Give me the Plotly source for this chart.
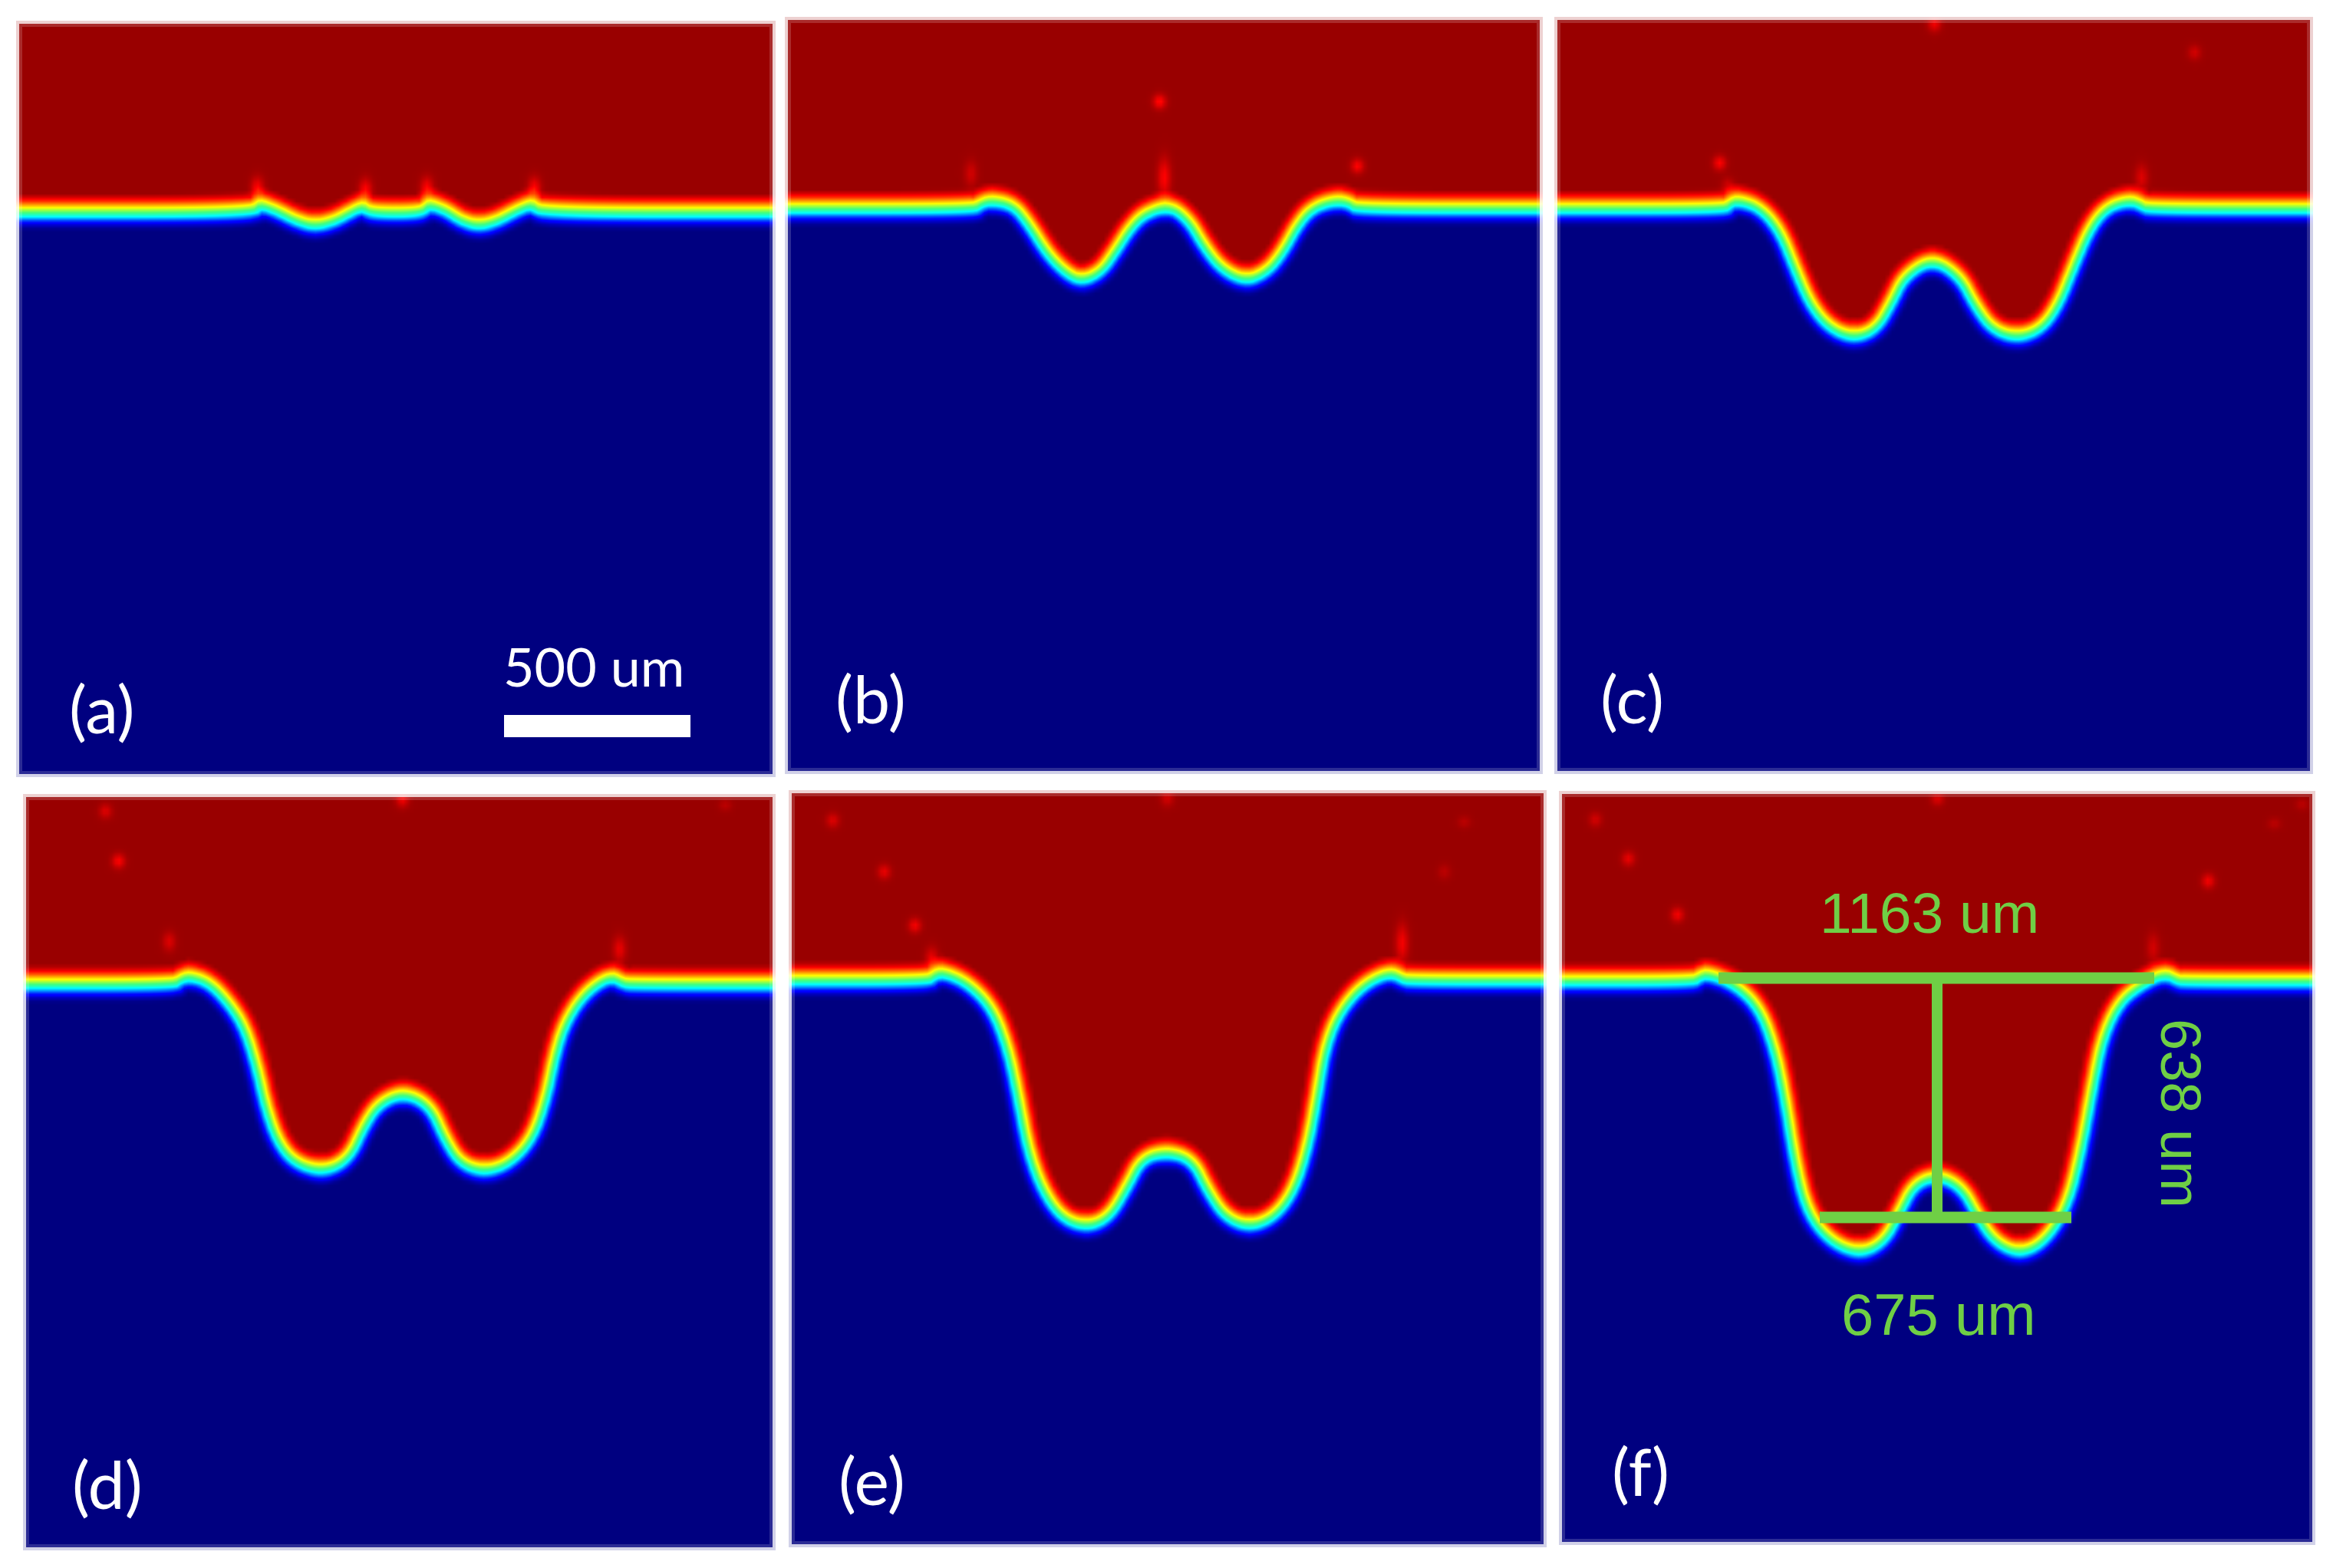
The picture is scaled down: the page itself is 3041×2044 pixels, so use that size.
import numpy as np
import plotly.graph_objects as go

# interface profiles, panel pixels from the top-left corner of each panel
a_x = [-10, 305, 312, 335, 360, 384, 410, 432, 447, 458, 525, 533, 556, 575, 598, 622, 648, 668, 679, 1000]
a_y = [246, 246, 235, 243, 256, 263, 257, 245, 238, 246, 246, 235, 243, 256, 263, 257, 243, 235, 246, 246]
b_x = [-10, 242, 250, 264, 293, 312, 337, 360, 382, 408, 427, 446, 465, 497, 522, 541, 564, 596, 624, 644, 666, 685, 714, 733, 739, 1000]
b_y = [246, 246, 240, 235, 241, 264, 304, 328, 340, 328, 301, 271, 252, 242, 261, 294, 324, 340, 328, 304, 264, 244, 235, 239, 246, 246]
c_x = [-10, 218, 224, 234, 263, 289, 309, 329, 355, 387, 416, 436, 452, 488, 524, 543, 566, 599, 631, 653, 673, 694, 716, 745, 761, 768, 1000]
c_y = [246, 246, 240, 235, 244, 274, 324, 371, 402, 414, 402, 367, 334, 311, 334, 371, 403, 414, 402, 371, 321, 271, 244, 235, 241, 246, 246]
d_x = [-10, 192, 200, 212, 239, 265, 285, 301, 311, 327, 350, 388, 421, 441, 460, 492, 526, 545, 565, 597, 630, 660, 678, 689, 702, 727, 760, 778, 786, 1000]
d_y = [244, 244, 238, 233, 242, 270, 302, 356, 402, 449, 477, 488, 471, 427, 399, 385, 402, 445, 477, 488, 477, 445, 392, 338, 295, 256, 233, 242, 244, 244]
e_x = [-10, 177, 185, 196, 229, 261, 281, 294, 307, 326, 352, 385, 414, 437, 456, 489, 522, 541, 564, 596, 629, 655, 673, 685, 695, 712, 742, 778, 795, 801, 1000]
e_y = [244, 244, 238, 233, 247, 280, 333, 394, 464, 517, 554, 565, 552, 513, 476, 467, 478, 517, 552, 565, 552, 517, 459, 394, 333, 288, 251, 233, 241, 244, 244]
f_x = [-10, 170, 178, 189, 225, 257, 277, 290, 303, 319, 349, 388, 420, 440, 459, 490, 521, 541, 563, 596, 629, 659, 677, 692, 705, 727, 757, 785, 801, 808, 1000]
f_y = [244, 244, 239, 234, 248, 279, 334, 398, 481, 545, 583, 599, 583, 545, 508, 497, 513, 550, 583, 599, 583, 536, 463, 380, 316, 270, 247, 234, 242, 244, 244]

# red specks and flame tails in the upper phase
a_spot_x = [310, 451, 531, 671]
a_spot_y = [214, 216, 214, 214]
a_spot_amp = [0.09, 0.09, 0.09, 0.09]
a_spot_len = [14, 14, 14, 14]
b_spot_x = [484, 742, 490, 238]
b_spot_y = [106, 190, 205, 200]
b_spot_amp = [0.10, 0.09, 0.09, 0.05]
b_spot_len = [9, 9, 24, 16]
c_spot_x = [211, 491, 830, 761, 222]
c_spot_y = [186, 4, 42, 205, 216]
c_spot_amp = [0.09, 0.08, 0.05, 0.06, 0.05]
c_spot_len = [9, 10, 9, 16, 10]
d_spot_x = [103, 120, 490, 911, 186, 773]
d_spot_y = [18, 83, 2, 10, 188, 198]
d_spot_amp = [0.06, 0.09, 0.08, 0.03, 0.06, 0.07]
d_spot_len = [9, 9, 10, 7, 12, 16]
e_spot_x = [53, 120, 160, 489, 876, 850, 795, 182]
e_spot_y = [35, 102, 172, 6, 37, 102, 195, 215]
e_spot_amp = [0.06, 0.07, 0.08, 0.05, 0.03, 0.03, 0.08, 0.07]
e_spot_len = [9, 9, 9, 10, 7, 9, 24, 14]
f_spot_x = [43, 86, 150, 489, 964, 928, 842, 770]
f_spot_y = [33, 84, 157, 6, 13, 38, 113, 200]
f_spot_amp = [0.05, 0.07, 0.08, 0.06, 0.03, 0.03, 0.08, 0.05]
f_spot_len = [9, 9, 9, 8, 7, 7, 9, 18]

panel_labels = ["(a)", "(b)", "(c)", "(d)", "(e)", "(f)"]
panel_left = [25, 1027, 2030, 34, 1032, 2036]
panel_top = [31, 26, 26, 1039, 1034, 1035]
panel_width = [982, 980, 981, 973, 980, 978]
panel_height = [978, 979, 979, 978, 979, 975]
label_x = [108, 108, 97, 106, 104, 102]
label_y = [891, 883, 883, 894, 894, 881]

scale_bar_x = [632, 875]
scale_bar_y = [901, 930]
width_top_x = [204, 772]
width_top_y = [240, 240]
width_bottom_x = [336, 664]
width_bottom_y = [552, 552]
depth_x = [489, 489]
depth_y = [240, 552]

# phase value against distance from the interface
dist_levels = [-24, -20, -15, -10, -5, 0, 6.5, 11, 17, 25]
phase_levels = [0, 0.02, 0.08, 0.2, 0.38, 0.5, 0.63, 0.75, 0.89, 0.978]

jet = [[0, "#000080"], [0.11, "#0000ff"], [0.125, "#0000ff"], [0.375, "#00ffff"], [0.5, "#40ff80"],
       [0.64, "#ffff00"], [0.89, "#ff0000"], [1, "#800000"]]

# the page body keeps its 8 px browser margin
PAGE_MARGIN = 8
W_PAGE, H_PAGE = 3041 - 2 * PAGE_MARGIN, 2044 - 2 * PAGE_MARGIN
PAD = 4
CELL = 5


def corner_cut(px_, py_, rounds=3):
    pts = np.column_stack([px_, py_]).astype(float)
    for _ in range(rounds):
        q = 0.75 * pts[:-1] + 0.25 * pts[1:]
        r = 0.25 * pts[:-1] + 0.75 * pts[1:]
        mid = np.empty((2 * len(q), 2))
        mid[0::2], mid[1::2] = q, r
        pts = np.vstack([pts[:1], mid, pts[-1:]])
    return pts[:, 0], pts[:, 1]


def phase_field(xs, ys, px_, py_, sx, sy, samp, slen):
    X, Y = np.meshgrid(xs, ys)
    best = np.full(X.shape, 1e9)
    steep = np.zeros(X.shape)
    crossings = np.zeros(X.shape, dtype=int)
    cx, cy = corner_cut(px_, py_)
    for x1, y1, x2, y2 in zip(cx[:-1], cy[:-1], cx[1:], cy[1:]):
        dx, dy = x2 - x1, y2 - y1
        seg = dx * dx + dy * dy
        if seg == 0:
            continue
        t = np.clip(((X - x1) * dx + (Y - y1) * dy) / seg, 0, 1)
        dist = np.hypot(X - x1 - t * dx, Y - y1 - t * dy)
        closer = dist < best
        best = np.where(closer, dist, best)
        steep = np.where(closer, abs(dy) / np.sqrt(seg), steep)
        if dx != 0:
            inside = (min(x1, x2) <= X) & (X < max(x1, x2))
            crossings += inside & (y1 + (X - x1) * dy / dx < Y)
    # the band is thinner on the steep walls
    signed = np.where(crossings % 2 == 1, -best, best) * (1 + 0.2 * steep)
    z = np.interp(signed, dist_levels, phase_levels)
    for x0, y0, amp, ln in zip(sx, sy, samp, slen):
        z = z - amp * np.exp(-((X - x0) / 8.0) ** 2 - ((Y - y0) / ln) ** 2) * (signed > 0)
    return np.round(z, 3)


profiles = [(a_x, a_y, a_spot_x, a_spot_y, a_spot_amp, a_spot_len),
            (b_x, b_y, b_spot_x, b_spot_y, b_spot_amp, b_spot_len),
            (c_x, c_y, c_spot_x, c_spot_y, c_spot_amp, c_spot_len),
            (d_x, d_y, d_spot_x, d_spot_y, d_spot_amp, d_spot_len),
            (e_x, e_y, e_spot_x, e_spot_y, e_spot_amp, e_spot_len),
            (f_x, f_y, f_spot_x, f_spot_y, f_spot_amp, f_spot_len)]

fig = go.Figure()
layout = {}
shapes = []
annotations = []

for i, prof in enumerate(profiles):
    n = "" if i == 0 else str(i + 1)
    w, h = panel_width[i], panel_height[i]
    left, top = panel_left[i] - PAGE_MARGIN, panel_top[i] - PAGE_MARGIN
    xs = np.arange(-PAD, w + PAD + CELL, CELL)
    ys = np.arange(-PAD, h + PAD + CELL, CELL)
    fig.add_trace(go.Heatmap(x=xs, y=ys, z=phase_field(xs, ys, *prof), colorscale=jet, zmin=0, zmax=1,
                             zsmooth="best", showscale=False, hoverinfo="skip", xaxis="x" + n, yaxis="y" + n))
    layout["xaxis" + n] = dict(domain=[(left - PAD) / W_PAGE, (left + w + PAD) / W_PAGE],
                               range=[-PAD, w + PAD], visible=False, anchor="y" + n)
    layout["yaxis" + n] = dict(domain=[1 - (top + h + PAD) / H_PAGE, 1 - (top - PAD) / H_PAGE],
                               range=[h + PAD, -PAD], visible=False, anchor="x" + n)
    # washed-out picture edge
    for inset, alpha in ((-2, 0.82), (2, 0.17)):
        shapes.append(dict(type="rect", xref="x" + n, yref="y" + n, x0=inset, x1=w - inset, y0=inset, y1=h - inset,
                           line=dict(color=f"rgba(255,255,255,{alpha})", width=4), layer="above"))
    annotations.append(dict(text=panel_labels[i], xref="x" + n, yref="y" + n, x=label_x[i], y=label_y[i],
                            showarrow=False, font=dict(family="Lato", size=86, color="white")))

shapes.append(dict(type="rect", xref="x", yref="y", x0=scale_bar_x[0], x1=scale_bar_x[1],
                   y0=scale_bar_y[0], y1=scale_bar_y[1], fillcolor="white", line_width=0, layer="above"))
annotations.append(dict(text="500 um", xref="x", yref="y", x=749, y=837, showarrow=False,
                        font=dict(family="Lato", size=70, color="white")))

GREEN = "#6fcf45"
for lx, ly, lw in ((width_top_x, width_top_y, 15), (width_bottom_x, width_bottom_y, 15), (depth_x, depth_y, 14)):
    fig.add_trace(go.Scatter(x=lx, y=ly, mode="lines", line=dict(color=GREEN, width=lw), showlegend=False,
                             hoverinfo="skip", xaxis="x6", yaxis="y6"))

for text, x, y, angle, size in (("1163 um", 479, 155, 0, 75), ("675 um", 491, 678, 0, 76), ("638 um", 807, 416, 90, 74)):
    annotations.append(dict(text=text, xref="x6", yref="y6", x=x, y=y, showarrow=False, textangle=angle,
                            font=dict(family="Liberation Sans", size=size, color=GREEN)))

fig.update_layout(width=W_PAGE, height=H_PAGE, margin=dict(l=0, r=0, t=0, b=0), paper_bgcolor="white",
                  plot_bgcolor="white", showlegend=False, shapes=shapes, annotations=annotations, **layout)

fig.write_html("out.html")
